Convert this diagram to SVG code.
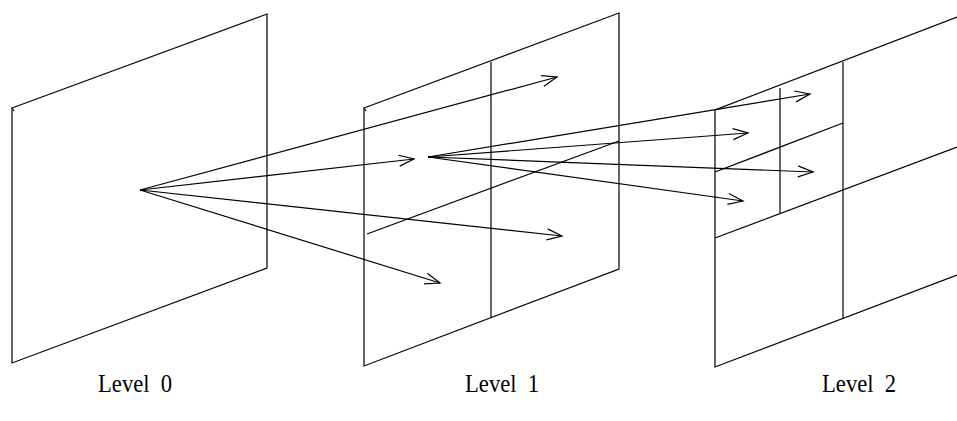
<svg xmlns="http://www.w3.org/2000/svg" width="957" height="421" viewBox="0 0 957 421">
<style>
.ln{fill:none;stroke:#000;stroke-width:1.2;stroke-linejoin:miter}
.ar{fill:none;stroke:#000;stroke-width:1.2}
.lbl{font-family:"Liberation Serif","Times New Roman",serif;font-size:22px;fill:#000}
</style>
<defs>
<marker id="oa" markerUnits="userSpaceOnUse" markerWidth="20" markerHeight="14" refX="0" refY="0" viewBox="-16 -7 18 14" orient="auto">
<path d="M-15,-5.5 L0,0 L-15,5.5" fill="none" stroke="#000" stroke-width="1.2"/>
</marker>
</defs>
<g id="plane0">
<path class="ln" d="M12,108 L267,14 L267,268 L12,363 Z"/>
<path class="ln" d="M12,108 L14,111"/>
</g>
<g id="plane1">
<path class="ln" d="M364,108 L619,13 L619,269 L364,366 Z"/>
<path class="ln" d="M364,108 L366,111"/>
<path class="ln" d="M491,62 L491,318"/>
<path class="ln" d="M367,234 L619,141"/>
</g>
<g id="plane2">
<path class="ln" d="M957,17 L715,110 L715,367 L957,275"/>
<path class="ln" d="M843,62 L843,319"/>
<path class="ln" d="M715,238 L957,147"/>
<path class="ln" d="M780,88 L780,213"/>
<path class="ln" d="M715,172 L843,123"/>
</g>
<g id="connectors">
<path class="ar" marker-end="url(#oa)" d="M140,190 L557,77"/>
<path class="ar" marker-end="url(#oa)" d="M140,190 L414,159"/>
<path class="ar" marker-end="url(#oa)" d="M140,190 L562,236"/>
<path class="ar" marker-end="url(#oa)" d="M140,190 L440,283"/>
<path class="ar" marker-end="url(#oa)" d="M428,157 L810,94"/>
<path class="ar" marker-end="url(#oa)" d="M428,157 L748,133"/>
<path class="ar" marker-end="url(#oa)" d="M428,157 L813,172"/>
<path class="ar" marker-end="url(#oa)" d="M428,157 L743,201"/>
</g>
<g id="labels">
<text class="lbl" transform="translate(98,392) scale(1.03,1.15)" xml:space="preserve">Level  0</text>
<text class="lbl" transform="translate(465,392) scale(1.03,1.15)" xml:space="preserve">Level  1</text>
<text class="lbl" transform="translate(822,392) scale(1.03,1.15)" xml:space="preserve">Level  2</text>
</g>
</svg>
